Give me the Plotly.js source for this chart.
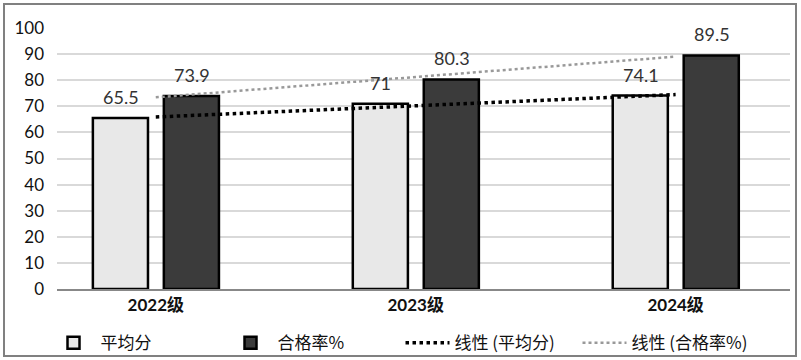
<!DOCTYPE html>
<html><head><meta charset="utf-8">
<script src="https://cdn.plot.ly/plotly-3.0.1.min.js"></script>
<style>
html,body{margin:0;padding:0;background:#fff}
#frame{position:absolute;left:3px;top:3px;width:790px;height:350px;border:2px solid #808080;pointer-events:none}
</style>
</head><body>
<div id="chart" style="width:801px;height:360px"></div>
<div id="frame"></div>
<script>
const categories = ['2022级', '2023级', '2024级'];
const avgScore = [65.5, 71, 74.1];
const passRate = [73.9, 80.3, 89.5];
const yTickVals = [0, 10, 20, 30, 40, 50, 60, 70, 80, 90, 100];
const seriesNames = ['平均分', '合格率%', '线性 (平均分)', '线性 (合格率%)'];

function linearFit(ys) {
  const n = ys.length;
  const xs = ys.map((_, i) => i);
  const mx = xs.reduce((a, b) => a + b, 0) / n;
  const my = ys.reduce((a, b) => a + b, 0) / n;
  let num = 0, den = 0;
  for (let i = 0; i < n; i++) { num += (xs[i] - mx) * (ys[i] - my); den += (xs[i] - mx) ** 2; }
  const b = num / den, a = my - b * mx;
  return xs.map(x => a + b * x);
}

const labelFont = {family: 'Lato, "Noto Sans CJK SC", sans-serif', size: 18, color: '#333'};

const traces = [
  {type: 'bar', name: seriesNames[0], x: categories, y: avgScore,
   width: 0.212, offset: -0.242,
   marker: {color: '#e8e8e8', line: {color: '#000', width: 2.5}}},
  {type: 'bar', name: seriesNames[1], x: categories, y: passRate,
   width: 0.212, offset: 0.031,
   marker: {color: '#3b3b3b', line: {color: '#000', width: 2.5}}},
  {type: 'scatter', mode: 'lines', name: seriesNames[2], x: categories, y: linearFit(avgScore),
   line: {color: '#000', width: 3.5, dash: 'dot'}},
  {type: 'scatter', mode: 'lines', name: seriesNames[3], x: categories, y: linearFit(passRate),
   line: {color: '#999', width: 2.5, dash: 'dot'}}
];

function labels(values, xshift) {
  return values.map((v, i) => ({
    x: categories[i], y: v, xref: 'x', yref: 'y', text: String(v), showarrow: false,
    xanchor: 'center', yanchor: 'middle', xshift: xshift, yshift: 21, font: labelFont
  }));
}

const layout = {
  width: 801, height: 360,
  margin: {l: 57, r: 11, t: 28, b: 71},
  paper_bgcolor: '#fff', plot_bgcolor: '#fff',
  showlegend: true,
  barmode: 'group',
  font: {family: 'Lato, "Noto Sans CJK SC", sans-serif', color: '#111'},
  xaxis: {type: 'category', range: [-0.38, 2.44], showgrid: false, zeroline: false, automargin: false,
          showline: true, linecolor: '#888', linewidth: 2, ticks: '',
          tickfont: {family: 'Lato, "Noto Sans CJK SC", sans-serif', size: 17, color: '#111', weight: 'bold'}},
  yaxis: {range: [0, 100], tickvals: yTickVals, showgrid: true, gridcolor: '#d9d9d9', gridwidth: 2,
          zeroline: false, showline: false, ticks: '', ticklabelstandoff: 12, automargin: false,
          tickfont: {family: 'Lato, sans-serif', size: 17, color: '#111'}},
  legend: {orientation: 'h', x: 0.5, xref: 'container', xanchor: 'center',
           y: 0.047, yref: 'container', yanchor: 'middle',
           font: {family: '"Noto Sans CJK SC", sans-serif', size: 17, color: '#111'},
           itemwidth: 44, entrywidth: 118, entrywidthmode: 'pixels', traceorder: 'normal'},
  annotations: [...labels(avgScore, -35), ...labels(passRate, 36)]
};

Plotly.newPlot('chart', traces, layout, {displayModeBar: false, staticPlot: true});
</script>
</body></html>
